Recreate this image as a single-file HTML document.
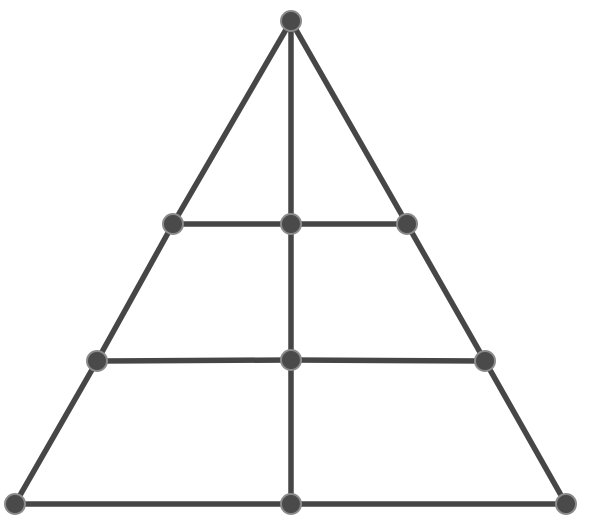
<!DOCTYPE html>
<html><head><meta charset="utf-8"><style>html,body{margin:0;padding:0;background:#fff}svg{display:block}</style></head>
<body>
<svg id="chart" width="592" height="528" viewBox="0 0 592 528">
<g id="edges"></g><g id="nodes"></g>
</svg>
<script>
const nodeIds=["top","m1l","m1c","m1r","m2l","m2c","m2r","bl","bc","br"];
const nodeX=[291,173,291,407,97,291,485,15,291,566];
const nodeY=[21,224,224,224,361,360,361,504,504,504];
const edgeFrom=[0,0,0,1,2,4,5,1,3,4,6,2,5,7,8];
const edgeTo=[1,3,2,2,3,5,6,4,6,7,9,5,8,8,9];
const NS="http://www.w3.org/2000/svg";
const eg=document.getElementById('edges'),ng=document.getElementById('nodes');
for(let i=0;i<edgeFrom.length;i++){
  const l=document.createElementNS(NS,'line');
  l.setAttribute('x1',nodeX[edgeFrom[i]]);l.setAttribute('y1',nodeY[edgeFrom[i]]);
  l.setAttribute('x2',nodeX[edgeTo[i]]);l.setAttribute('y2',nodeY[edgeTo[i]]);
  l.setAttribute('stroke','#464646');l.setAttribute('stroke-width','5.5');
  
  
  eg.appendChild(l);
}
for(let i=0;i<nodeX.length;i++){
  const c=document.createElementNS(NS,'circle');
  c.setAttribute('cx',nodeX[i]);c.setAttribute('cy',nodeY[i]);c.setAttribute('r','10');
  c.setAttribute('fill','#4a4a4a');c.setAttribute('stroke','#8a8a8a');c.setAttribute('stroke-width','2');
  
  
  ng.appendChild(c);
}
</script>
</body></html>
